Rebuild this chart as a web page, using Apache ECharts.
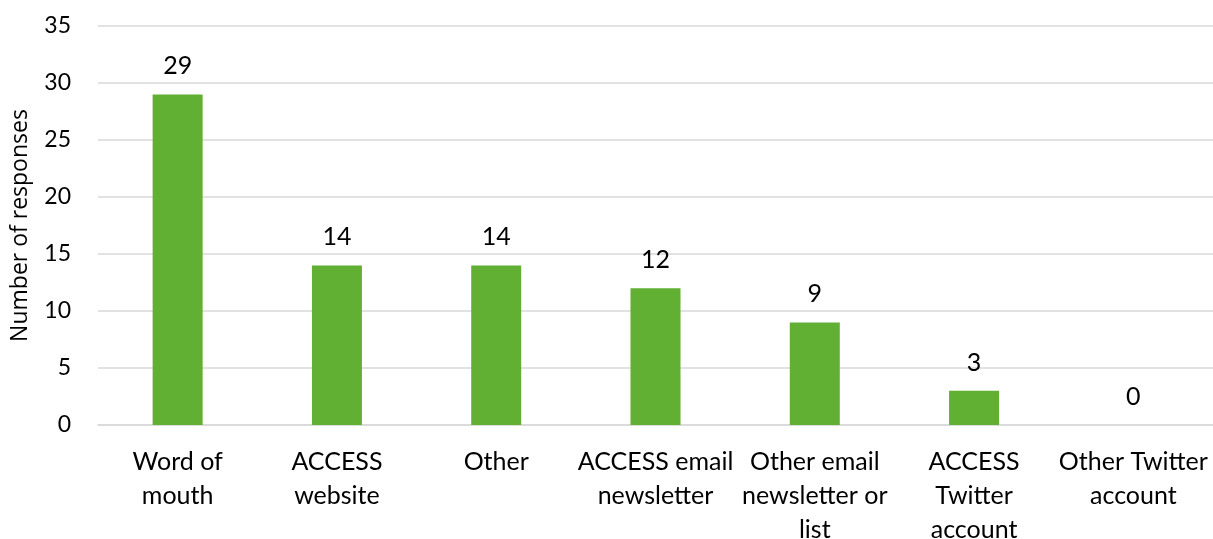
<!DOCTYPE html>
<html>
<head>
<meta charset="utf-8">
<script src="https://cdn.jsdelivr.net/npm/echarts@6/dist/echarts.min.js"></script>
<style>
  html, body { margin: 0; padding: 0; background: #fff; }
  #chart { width: 1213px; height: 539px; }
</style>
</head>
<body>
<div id="chart"></div>
<script>
// How respondents heard about ACCESS
const categories = [
  'Word of\nmouth',
  'ACCESS\nwebsite',
  'Other',
  'ACCESS email\nnewsletter',
  'Other email\nnewsletter or\nlist',
  'ACCESS\nTwitter\naccount',
  'Other Twitter\naccount'
];
const responses = [29, 14, 14, 12, 9, 3, 0];
const yTicks = { min: 0, max: 35, interval: 5 };

const chart = echarts.init(document.getElementById('chart'), null, { renderer: 'canvas' });

chart.setOption({
  animation: false,
  backgroundColor: '#ffffff',
  grid: {
    left: 98, right: 0, top: 26, bottom: 114,
    containLabel: false,
    outerBoundsMode: 'none'
  },
  xAxis: {
    type: 'category',
    data: categories,
    axisLine: { show: true, lineStyle: { color: '#d9d9d9', width: 1.5 } },
    axisTick: { show: false },
    axisLabel: {
      interval: 0,
      margin: 20,
      color: '#000',
      fontFamily: 'Lato',
      fontSize: 25,
      lineHeight: 34
    }
  },
  yAxis: {
    type: 'value',
    min: yTicks.min,
    max: yTicks.max,
    interval: yTicks.interval,
    name: 'Number of responses',
    nameLocation: 'middle',
    nameGap: 66,
    nameTextStyle: { color: '#000', fontFamily: 'Open Sans', fontSize: 23 },
    axisLine: { show: false },
    axisTick: { show: false },
    axisLabel: { margin: 27, color: '#000', fontFamily: 'Lato', fontSize: 23 },
    splitLine: { lineStyle: { color: '#d9d9d9', width: 1.5 } }
  },
  series: [{
    type: 'bar',
    data: responses,
    barWidth: 50,
    itemStyle: { color: '#61b033' },
    label: {
      show: true,
      position: 'top',
      distance: 14,
      color: '#000',
      fontFamily: 'Lato',
      fontSize: 25,
      lineHeight: 28
    }
  }]
});
</script>
</body>
</html>
